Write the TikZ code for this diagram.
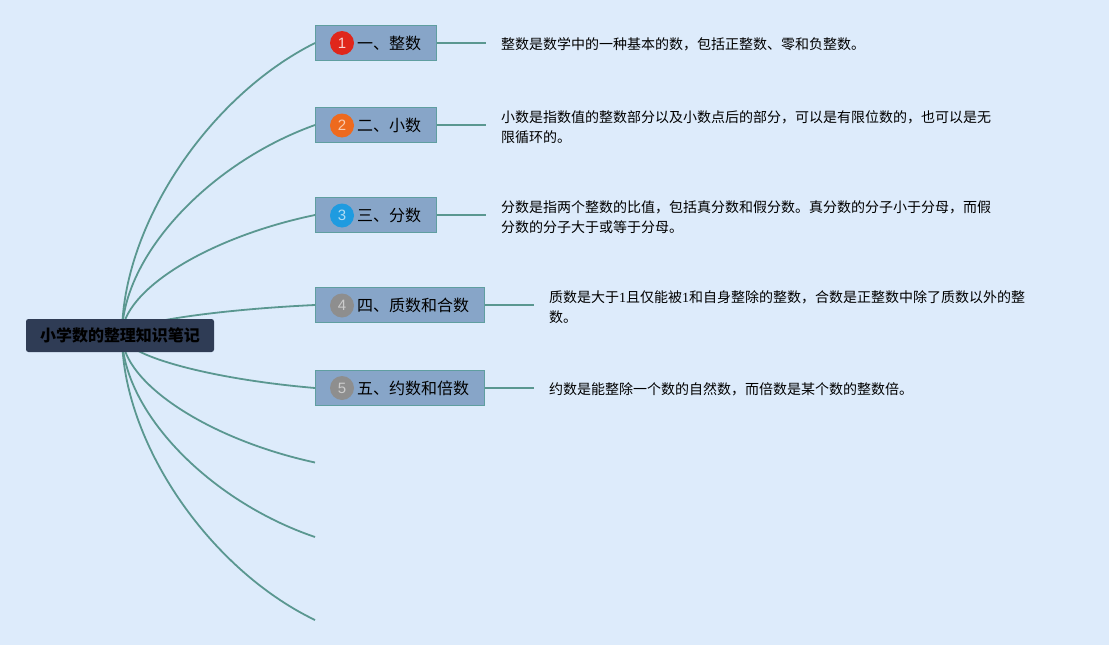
\documentclass[tikz,border=0pt]{standalone}
\usepackage{fontspec}
\newfontfamily\cjk{Noto Sans CJK SC}
\newfontfamily\numf{Liberation Sans}
\newfontfamily\sernum{Liberation Serif}
\definecolor{bg}{HTML}{DDEBFB}
\definecolor{branchc}{HTML}{5A9790}
\definecolor{boxfill}{HTML}{87A5C8}
\definecolor{boxline}{HTML}{5F9EA0}
\definecolor{rootfill}{HTML}{2F3C55}
\definecolor{bred}{HTML}{E0261B}
\definecolor{borange}{HTML}{EE6A1E}
\definecolor{bblue}{HTML}{1F9BE0}
\definecolor{bgray}{HTML}{8E8E8E}
\begin{document}
\begin{tikzpicture}[x=1pt,y=-1pt,
  branch/.style={draw=branchc,line width=1.8pt},
  topicbox/.style={draw=boxline,fill=boxfill,line width=1pt,minimum height=35pt,inner sep=0pt,anchor=west},
  badge/.style={circle,minimum size=24pt,inner sep=0pt,font=\numf\fontsize{15}{15}\selectfont},
  topiclabel/.style={anchor=west,inner sep=0pt,font=\cjk\fontsize{16}{16}\selectfont,text=black},
  desc/.style={anchor=west,inner sep=0pt,align=left,font=\cjk\fontsize{14}{20}\selectfont,text=black},
  rootbox/.style={fill=rootfill,rounded corners=2.5pt,minimum width=188pt,minimum height=33pt,inner sep=0pt,font=\cjk\bfseries\fontsize{16}{16}\selectfont,text=black}]
\useasboundingbox (0,0) rectangle (1109,645);
\fill[bg] (0,0) rectangle (1109,645);

\coordinate (o) at (122,335);
\coordinate (e6) at (315,462.5);
\coordinate (e7) at (315,537);
\coordinate (e8) at (315,620);

% topic boxes
\node[topicbox,minimum width=121pt] (b1) at (315,43) {};
\node[topicbox,minimum width=121pt] (b2) at (315,125) {};
\node[topicbox,minimum width=121pt] (b3) at (315,215) {};
\node[topicbox,minimum width=169pt] (b4) at (315,305) {};
\node[topicbox,minimum width=169pt] (b5) at (315,388) {};

% branches
\draw[branch] (o) .. controls +(0,-110) and +(-106,53) .. (b1.west);
\draw[branch] (o) .. controls +(0,-79) and +(-106,38) .. (b2.west);
\draw[branch] (o) .. controls +(0,-45) and +(-106,22) .. (b3.west);
\draw[branch] (o) .. controls +(0,-11) and +(-106,5) .. (b4.west);
\draw[branch] (o) .. controls +(0,20) and +(-106,-9) .. (b5.west);
\draw[branch] (o) .. controls +(0,48) and +(-106,-23) .. (e6);
\draw[branch] (o) .. controls +(0,76) and +(-106,-36) .. (e7);
\draw[branch] (o) .. controls +(0,107) and +(-106,-51) .. (e8);

% root
\node[rootbox] (root) at (120,335.5) {小学数的整理知识笔记};

% badges and labels
\node[badge,fill=bred,text=white!80!bred] (n1) at (342,43) {1};
\node[badge,fill=borange,text=white!65!borange] (n2) at (342,125.5) {2};
\node[badge,fill=bblue,text=white!65!bblue] (n3) at (342,215.5) {3};
\node[badge,fill=bgray,text=white!55!bgray] (n4) at (342,305.5) {4};
\node[badge,fill=bgray,text=white!55!bgray] (n5) at (342,388) {5};
\node[topiclabel] (l1) at (357,43) {一、整数};
\node[topiclabel] (l2) at (357,125.5) {二、小数};
\node[topiclabel] (l3) at (357,215.5) {三、分数};
\node[topiclabel] (l4) at (357,305.5) {四、质数和合数};
\node[topiclabel] (l5) at (357,388) {五、约数和倍数};

% connectors to descriptions
\coordinate (c1) at (486,43);
\coordinate (c2) at (486,125);
\coordinate (c3) at (486,215);
\coordinate (c4) at (534,305);
\coordinate (c5) at (534,388);
\draw[branch] (b1.east) -- (c1);
\draw[branch] (b2.east) -- (c2);
\draw[branch] (b3.east) -- (c3);
\draw[branch] (b4.east) -- (c4);
\draw[branch] (b5.east) -- (c5);

% descriptions
\node[desc] (d1) at (501,44) {整数是数学中的一种基本的数，包括正整数、零和负整数。};
\node[desc] (d2) at (501,127) {小数是指数值的整数部分以及小数点后的部分，可以是有限位数的，也可以是无\\限循环的。};
\node[desc] (d3) at (501,217) {分数是指两个整数的比值，包括真分数和假分数。真分数的分子小于分母，而假\\分数的分子大于或等于分母。};
\node[desc] (d4) at (549,307) {质数是大于{\sernum 1}且仅能被{\sernum 1}和自身整除的整数，合数是正整数中除了质数以外的整\\数。};
\node[desc] (d5) at (549,389) {约数是能整除一个数的自然数，而倍数是某个数的整数倍。};
\end{tikzpicture}
\end{document}
